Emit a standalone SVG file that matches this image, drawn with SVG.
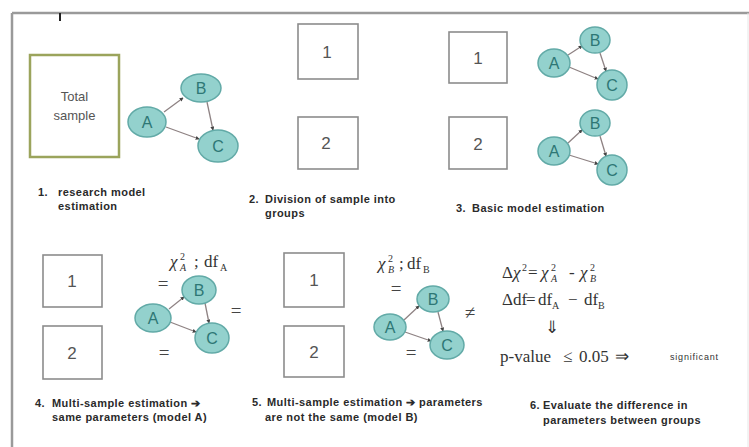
<svg xmlns="http://www.w3.org/2000/svg" width="749" height="447" viewBox="0 0 749 447">
<style>
.box{fill:#fff;stroke:#8c8c8c;stroke-width:1.6}
.num{font-family:"Liberation Sans",Arial,sans-serif;font-size:17px;fill:#555;text-anchor:middle}
.nd{fill:#93d1cd;stroke:#62aaa7;stroke-width:1.5}
.nl{font-family:"Liberation Sans",Arial,sans-serif;font-size:16px;fill:#2e7775;text-anchor:middle}
.ed{stroke:#8e8283;stroke-width:1.3;fill:none;marker-end:url(#ah)}
.cap{font-family:"Liberation Sans",Arial,sans-serif;font-size:11px;font-weight:bold;fill:#2a2a2a;letter-spacing:0.45px}
.m{font-family:"Liberation Serif","Times New Roman",serif;font-size:17px;fill:#333}
.mi{font-style:italic}
.sub{font-size:10px}
.eq{font-family:"Liberation Serif","Times New Roman",serif;font-size:19px;fill:#444;text-anchor:middle}
</style>
<defs>
<marker id="ah" viewBox="0 0 6 6" refX="5" refY="3" markerWidth="4" markerHeight="4" orient="auto" markerUnits="userSpaceOnUse">
<path d="M0,0 L6,3 L0,6 z" fill="#444"/>
</marker>
</defs>

<g id="frame">
<line x1="12" y1="13" x2="749" y2="13" stroke="#9a9a9a" stroke-width="2.5"/>
<line x1="12" y1="13" x2="12" y2="447" stroke="#9a9a9a" stroke-width="2.5"/>
<line x1="748" y1="13" x2="748" y2="447" stroke="#e6e6e6" stroke-width="1"/>
<line x1="60" y1="13" x2="60" y2="21" stroke="#222" stroke-width="2"/>
</g>

<!-- Step 1 -->
<g id="total-sample">
<rect x="30" y="55" width="89" height="102" fill="#fff" stroke="#9ba45c" stroke-width="2.5"/>
<text x="74.5" y="101" font-family="Liberation Sans,Arial,sans-serif" font-size="13" fill="#555" text-anchor="middle">Total</text>
<text x="74.5" y="120" font-family="Liberation Sans,Arial,sans-serif" font-size="13" fill="#555" text-anchor="middle">sample</text>
</g>
<g id="connectors">
<line class="ed" x1="164" y1="112" x2="183" y2="98"/>
<line class="ed" x1="166" y1="127" x2="199" y2="139"/>
<line class="ed" x1="207" y1="102" x2="213" y2="130"/>

<line class="ed" x1="568" y1="55" x2="582" y2="46"/>
<line class="ed" x1="569" y1="67" x2="598" y2="79"/>
<line class="ed" x1="600" y1="53" x2="606" y2="71"/>

<line class="ed" x1="568" y1="143" x2="582" y2="130"/>
<line class="ed" x1="569" y1="155" x2="598" y2="164"/>
<line class="ed" x1="600" y1="136" x2="606" y2="156"/>

<line class="ed" x1="169" y1="309" x2="184" y2="297"/>
<line class="ed" x1="170" y1="322" x2="196" y2="332"/>
<line class="ed" x1="205" y1="303" x2="209" y2="323"/>

<line class="ed" x1="404" y1="320" x2="419" y2="306"/>
<line class="ed" x1="405" y1="332" x2="431" y2="341"/>
<line class="ed" x1="438" y1="312" x2="443" y2="331"/>
</g>
<g id="model1">
<ellipse class="nd" cx="147" cy="122" rx="19" ry="15"/><text class="nl" x="147" y="128">A</text>
<ellipse class="nd" cx="201" cy="88" rx="20" ry="14"/><text class="nl" x="201" y="94">B</text>
<ellipse class="nd" cx="218" cy="146" rx="20" ry="16"/><text class="nl" x="218" y="152">C</text>
</g>
<g id="cap1">
<text class="cap" x="38" y="196">1.</text>
<text class="cap" x="58" y="196">research model</text>
<text class="cap" x="58" y="210">estimation</text>
</g>

<!-- Step 2 -->
<g id="step2-box1"><rect class="box" x="298" y="24" width="60" height="55"/><text class="num" x="327" y="58">1</text></g>
<g id="step2-box2"><rect class="box" x="298" y="117" width="60" height="52"/><text class="num" x="326" y="149">2</text></g>
<g id="cap2">
<text class="cap" x="249" y="203">2.</text>
<text class="cap" x="265" y="203">Division of sample into</text>
<text class="cap" x="265" y="217">groups</text>
</g>

<!-- Step 3 -->
<g id="step3-box1"><rect class="box" x="449" y="32" width="58" height="51"/><text class="num" x="478" y="64">1</text></g>
<g id="step3-box2"><rect class="box" x="449" y="117" width="58" height="52"/><text class="num" x="478" y="150">2</text></g>
<g id="model3a">
<ellipse class="nd" cx="554" cy="63" rx="16" ry="14"/><text class="nl" x="554" y="69">A</text>
<ellipse class="nd" cx="595" cy="40" rx="15" ry="13"/><text class="nl" x="595" y="46">B</text>
<ellipse class="nd" cx="612" cy="85" rx="15" ry="15"/><text class="nl" x="612" y="91">C</text>
</g>
<g id="model3b">
<ellipse class="nd" cx="554" cy="151" rx="16" ry="14"/><text class="nl" x="554" y="157">A</text>
<ellipse class="nd" cx="595" cy="123" rx="15" ry="13"/><text class="nl" x="595" y="129">B</text>
<ellipse class="nd" cx="612" cy="170" rx="15" ry="15"/><text class="nl" x="612" y="176">C</text>
</g>
<g id="cap3">
<text class="cap" x="456" y="212">3.</text>
<text class="cap" x="472" y="212">Basic model estimation</text>
</g>

<!-- Step 4 -->
<g id="step4-box1"><rect class="box" x="43" y="255" width="59" height="52"/><text class="num" x="72" y="287">1</text></g>
<g id="step4-box2"><rect class="box" x="43" y="326" width="59" height="53"/><text class="num" x="72" y="359">2</text></g>
<g id="model4">
<ellipse class="nd" cx="153" cy="318" rx="18" ry="14"/><text class="nl" x="153" y="324">A</text>
<ellipse class="nd" cx="199" cy="290" rx="17" ry="14"/><text class="nl" x="199" y="296">B</text>
<ellipse class="nd" cx="212" cy="338" rx="17" ry="15"/><text class="nl" x="212" y="344">C</text>
</g>
<g id="eq4">
<text class="m" x="170" y="267"><tspan class="mi">χ</tspan><tspan class="sub" x="180" y="260">2</tspan><tspan class="sub mi" x="180" y="271">A</tspan><tspan x="194" y="267">;</tspan><tspan x="204" y="267">df</tspan><tspan class="sub" x="220" y="271">A</tspan></text>
<text class="eq" x="163" y="290">=</text>
<text class="eq" x="236" y="317">=</text>
<text class="eq" x="164" y="359">=</text>
</g>
<g id="cap4">
<text class="cap" x="35" y="407">4.</text>
<text class="cap" x="52" y="407">Multi-sample estimation ➔</text>
<text class="cap" x="52" y="421">same parameters (model A)</text>
</g>

<!-- Step 5 -->
<g id="step5-box1"><rect class="box" x="284" y="253" width="60" height="54"/><text class="num" x="314" y="286">1</text></g>
<g id="step5-box2"><rect class="box" x="284" y="326" width="60" height="51"/><text class="num" x="314" y="358">2</text></g>
<g id="model5">
<ellipse class="nd" cx="390" cy="327" rx="16" ry="13"/><text class="nl" x="390" y="333">A</text>
<ellipse class="nd" cx="433" cy="299" rx="16" ry="13"/><text class="nl" x="433" y="305">B</text>
<ellipse class="nd" cx="447" cy="345" rx="17" ry="14"/><text class="nl" x="447" y="351">C</text>
</g>
<g id="eq5">
<text class="m" x="378" y="269"><tspan class="mi">χ</tspan><tspan class="sub" x="388" y="262">2</tspan><tspan class="sub mi" x="388" y="273">B</tspan><tspan x="399" y="269">;</tspan><tspan x="407" y="269">df</tspan><tspan class="sub" x="423" y="273">B</tspan></text>
<text class="eq" x="396" y="295">=</text>
<text class="eq" x="411" y="359">=</text>
<text class="eq" x="470" y="319">≠</text>
</g>
<g id="cap5">
<text class="cap" x="252" y="406">5.</text>
<text class="cap" x="267" y="406">Multi-sample estimation ➔ parameters</text>
<text class="cap" x="265" y="421">are not the same (model B)</text>
</g>

<!-- Step 6 -->
<g id="eq6">
<text class="m" x="502" y="278">Δ<tspan class="mi">χ</tspan><tspan class="sub" x="522" y="271">2</tspan><tspan x="528" y="278">=</tspan><tspan class="mi" x="541" y="278">χ</tspan><tspan class="sub" x="551" y="271">2</tspan><tspan class="sub mi" x="551" y="282">A</tspan><tspan x="569" y="278">-</tspan><tspan class="mi" x="580" y="278">χ</tspan><tspan class="sub" x="590" y="271">2</tspan><tspan class="sub mi" x="590" y="282">B</tspan></text>
<text class="m" x="502" y="305">Δdf<tspan x="526" y="305">=</tspan><tspan x="538" y="305">df</tspan><tspan class="sub" x="552" y="309">A</tspan><tspan x="568" y="305">−</tspan><tspan x="584" y="305">df</tspan><tspan class="sub" x="598" y="309">B</tspan></text>
<text class="m" x="552" y="333" text-anchor="middle">⇓</text>
<text class="m" x="500" y="362" font-size="17">p-value</text>
<text class="m" x="563" y="362" font-size="17">≤</text>
<text class="m" x="579" y="362" font-size="17">0.05</text>
<text class="m" x="615" y="362" font-size="17">⇒</text>
<text x="670" y="360" font-family="Liberation Sans,Arial,sans-serif" font-size="9" letter-spacing="0.8" fill="#333">significant</text>
</g>
<g id="cap6">
<text class="cap" x="530" y="409">6.</text>
<text class="cap" x="543" y="409">Evaluate the difference in</text>
<text class="cap" x="543" y="424">parameters between groups</text>
</g>
</svg>
